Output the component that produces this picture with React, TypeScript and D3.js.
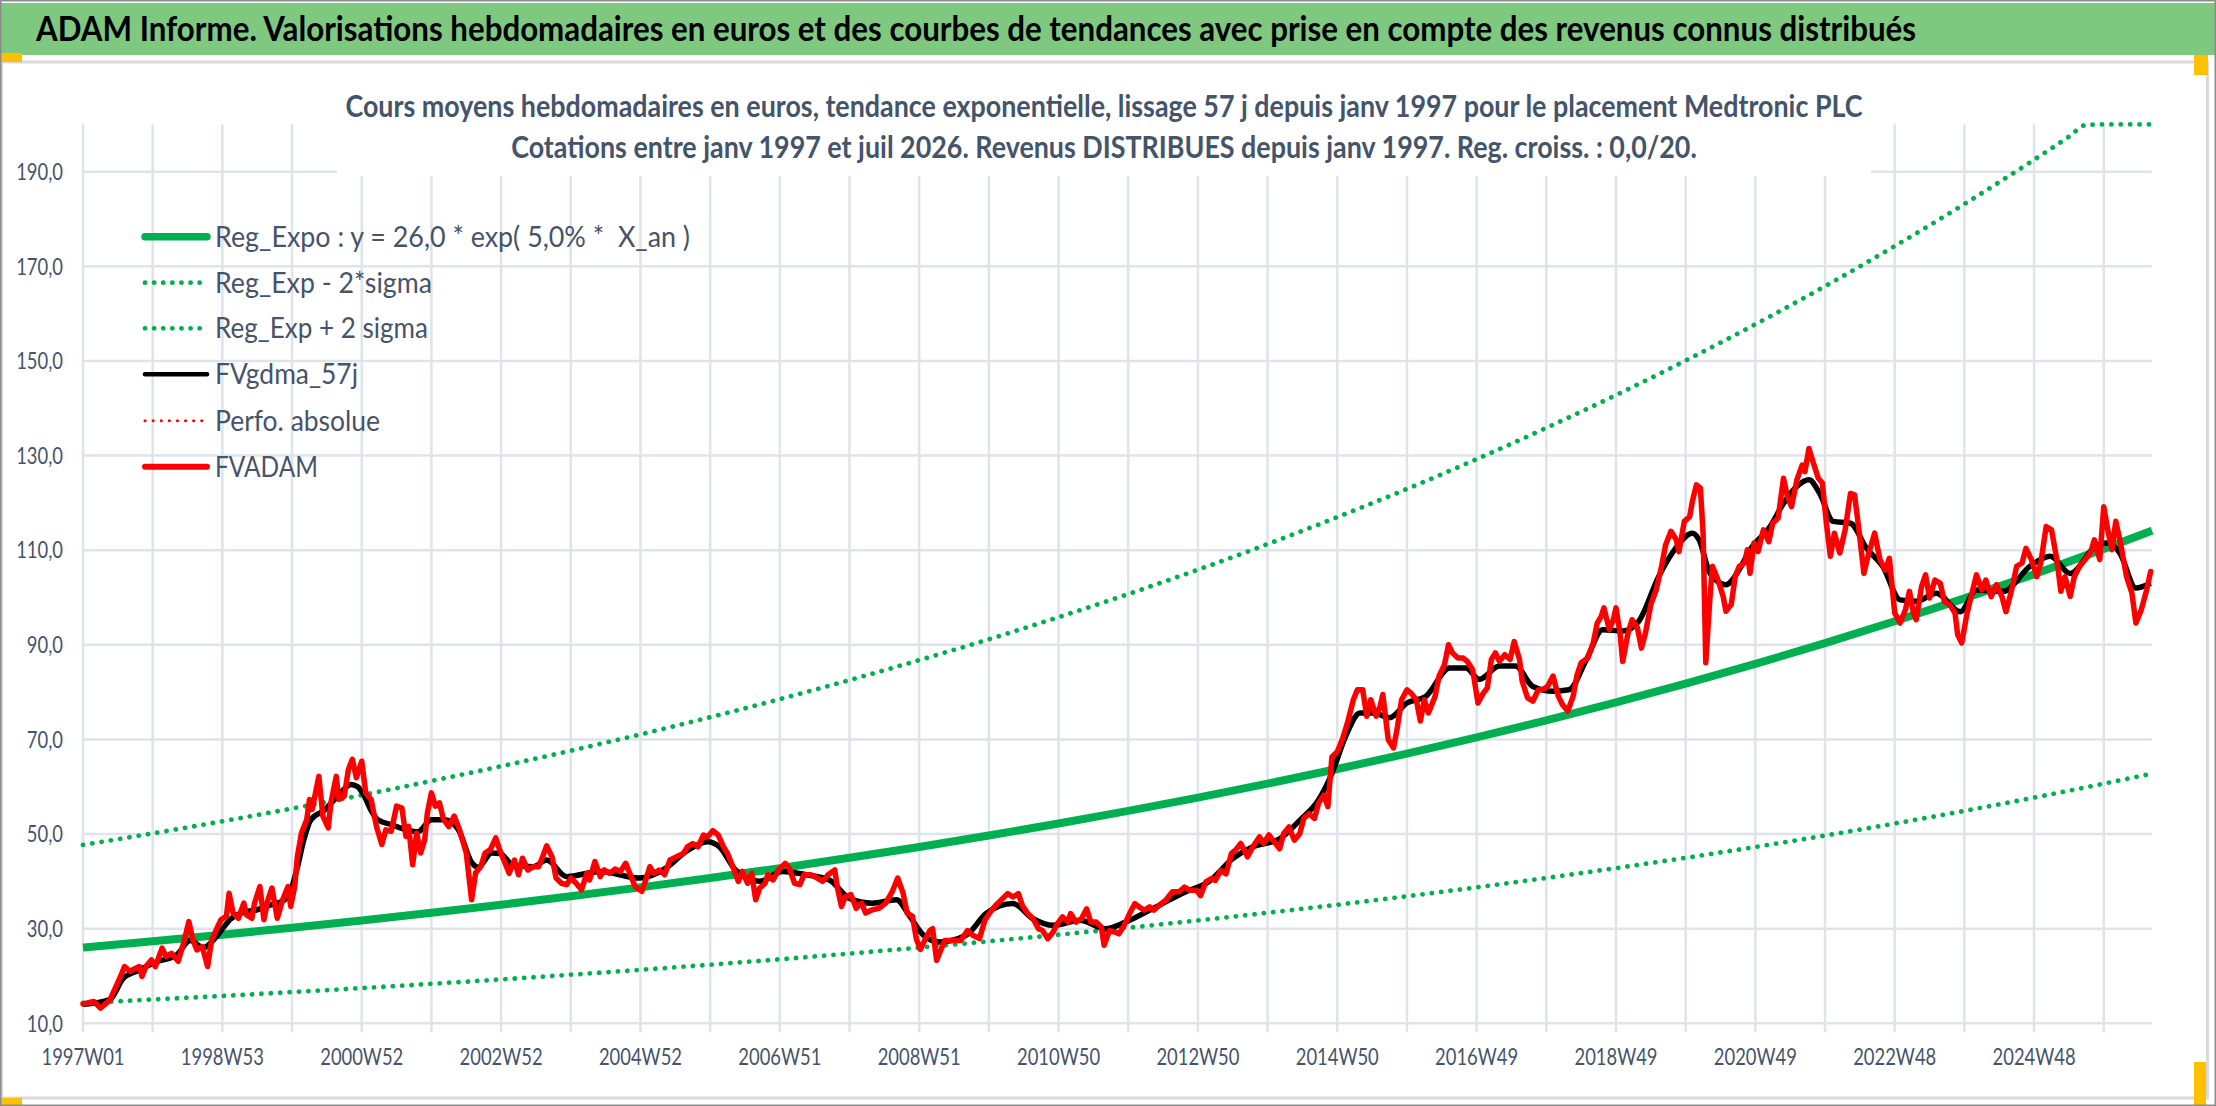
import React, { useLayoutEffect, useRef, useState } from "react";
import * as d3 from "d3";

// ---------------- DATA ----------------
const weeksTotal = 1545; // weekly categories 1997W01 .. juil 2026

const xTickLabels = [
  "1997W01", "1998W53", "2000W52", "2002W52", "2004W52", "2006W51", "2008W51", "2010W50",
  "2012W50", "2014W50", "2016W49", "2018W49", "2020W49", "2022W48", "2024W48",
];
const yTicks = [10, 30, 50, 70, 90, 110, 130, 150, 170, 190];

// FVADAM (red) — week index / value
const redWeeks = [
  0, 8, 13, 20, 24, 28, 31, 35, 39, 42, 44, 47, 51, 54, 59, 62, 66, 71, 75, 79, 82, 85, 89, 93, 96, 100,
  103, 107, 109, 112, 116, 120, 122, 126, 128, 132, 135, 138, 141, 145, 149, 153, 155, 158, 160, 163, 167,
  169, 171, 176, 179, 183, 185, 189, 191, 195, 198, 201, 204, 208, 211, 215, 219, 223, 226, 230, 234, 238,
  241, 243, 246, 249, 252, 255, 257, 260, 263, 266, 269, 273, 277, 281, 286, 290, 293, 297, 300, 304, 308,
  311, 314, 318, 322, 325, 328, 332, 336, 340, 343, 346, 350, 353, 357, 361, 364, 368, 372, 376, 378, 382,
  386, 389, 393, 397, 401, 405, 408, 412, 417, 420, 423, 426, 430, 434, 438, 443, 448, 451, 455, 459, 463,
  466, 470, 474, 478, 481, 485, 489, 492, 496, 499, 502, 505, 509, 511, 515, 519, 524, 527, 531, 535, 538,
  543, 548, 552, 556, 561, 563, 566, 569, 573, 577, 581, 584, 589, 594, 599, 604, 608, 612, 615, 619, 622,
  625, 628, 632, 634, 637, 640, 643, 647, 652, 655, 660, 664, 669, 673, 678, 681, 685, 690, 694, 698, 701,
  705, 709, 713, 716, 720, 724, 727, 731, 735, 737, 741, 745, 749, 752, 756, 760, 762, 766, 770, 773, 777,
  781, 785, 788, 792, 796, 799, 803, 808, 813, 818, 822, 826, 831, 834, 838, 842, 845, 849, 853, 857, 860,
  864, 869, 873, 878, 881, 885, 889, 893, 896, 900, 904, 908, 911, 915, 919, 922, 926, 929, 932, 936, 940,
  944, 948, 951, 955, 958, 961, 965, 968, 970, 974, 978, 981, 984, 988, 991, 995, 998, 1001, 1004, 1009,
  1012, 1016, 1019, 1022, 1026, 1030, 1033, 1037, 1041, 1045, 1048, 1051, 1054, 1057, 1061, 1065, 1068,
  1072, 1074, 1078, 1082, 1086, 1089, 1093, 1097, 1101, 1104, 1108, 1112, 1115, 1118, 1123, 1127, 1130,
  1133, 1135, 1139, 1142, 1144, 1147, 1149, 1153, 1156, 1160, 1163, 1166, 1170, 1174, 1178, 1181, 1185,
  1189, 1191, 1195, 1199, 1201, 1204, 1207, 1209, 1211, 1214, 1216, 1220, 1224, 1226, 1230, 1233, 1236,
  1240, 1242, 1244, 1247, 1250, 1254, 1258, 1261, 1265, 1269, 1272, 1275, 1279, 1283, 1285, 1288, 1291,
  1295, 1298, 1301, 1304, 1307, 1311, 1315, 1319, 1322, 1325, 1329, 1332, 1337, 1341, 1345, 1348, 1352,
  1356, 1360, 1363, 1366, 1368, 1372, 1375, 1378, 1382, 1386, 1389, 1393, 1397, 1399, 1402, 1406, 1409,
  1413, 1417, 1420, 1424, 1428, 1432, 1435, 1439, 1443, 1447, 1450, 1454, 1458, 1461, 1465, 1469, 1473,
  1476, 1479, 1483, 1486, 1490, 1494, 1498, 1501, 1505, 1508, 1511, 1514, 1517, 1521, 1525, 1529, 1532,
  1536, 1540, 1543,
];
const redValues = [
  14.1, 14.6, 13.2, 14.9, 17.4, 19.9, 22.0, 21.0, 21.6, 22.0, 19.9, 22.0, 23.4, 22.0, 25.9, 24.1, 24.8, 23.1,
  26.9, 31.5, 27.6, 25.5, 26.2, 22.0, 27.6, 30.1, 31.9, 32.6, 37.5, 33.3, 32.2, 35.4, 32.9, 32.2, 35.4, 38.9,
  31.9, 36.1, 38.6, 32.2, 36.1, 38.9, 34.7, 38.9, 45.3, 50.2, 53.1, 57.3, 55.2, 62.2, 53.8, 51.3, 56.6, 62.2,
  57.3, 58.0, 63.6, 65.8, 61.9, 65.4, 58.7, 57.3, 51.6, 47.8, 50.9, 50.6, 55.9, 55.5, 49.5, 51.6, 43.5, 50.2,
  46.0, 48.8, 54.5, 58.7, 55.9, 56.6, 53.1, 51.6, 53.8, 50.9, 46.0, 36.1, 41.8, 43.2, 46.0, 46.7, 49.2,
  46.6, 44.5, 41.7, 44.5, 41.4, 44.9, 42.4, 43.1, 43.1, 45.2, 47.5, 45.2, 40.7, 39.6, 39.3, 40.7, 39.6, 38.2,
  41.7, 40.3, 44.2, 41.0, 42.4, 41.7, 42.6, 42.1, 43.8, 41.7, 38.9, 37.9, 40.3, 43.1, 41.7, 42.4, 41.4, 44.5,
  45.2, 45.9, 47.3, 48.0, 47.3, 49.8, 49.4, 50.7, 49.8, 47.3, 45.9, 43.1, 40.0, 42.1, 39.6, 41.7, 36.1, 38.6,
  39.6, 41.4, 40.3, 42.4, 43.8, 42.8, 39.6, 39.3, 41.4, 41.4, 40.7, 40.0, 41.4, 42.4, 38.6, 34.7, 36.8, 37.2,
  34.3, 35.4, 33.3, 34.0, 34.3, 35.4, 37.9, 40.7, 37.5, 33.3, 32.6, 27.7, 25.6,
  27.5, 29.6, 30.0, 23.3, 25.4, 27.5, 27.5, 27.5, 27.5, 29.6, 28.6, 27.9, 31.8, 33.9, 34.9, 36.0, 37.4, 36.7,
  37.4, 34.9, 33.2, 32.1, 30.0, 29.6, 27.9, 29.3, 31.0, 32.5, 31.4, 33.2, 31.4, 32.1, 34.2, 31.4, 31.4, 30.3,
  26.5, 29.6, 29.3, 28.9, 30.7, 33.2, 35.3, 34.6, 33.9, 34.6, 33.9, 34.9, 36.0, 37.8, 37.8, 38.8, 38.1, 38.1,
  37.0, 39.9, 40.6, 40.2, 42.3, 41.6, 45.9, 46.6, 48.0, 45.2, 47.3, 49.4, 48.0, 49.8, 48.3, 46.9, 50.1, 51.5,
  48.7, 50.1, 53.3, 54.3, 53.3, 56.5, 58.2, 55.8, 66.3, 67.4, 70.2,
  73.9, 78.4, 80.5, 80.5, 74.9, 78.4, 74.9, 77.0, 79.5, 70.0, 68.2, 72.8, 78.4, 80.5, 79.8, 78.4, 73.9, 78.4,
  75.6, 79.1, 83.4, 85.8, 90.0, 88.3, 87.2, 87.2, 86.5, 84.8, 77.7, 79.8, 80.9, 86.9, 88.3, 86.5, 87.9, 86.9,
  90.7, 86.9, 82.3, 78.8, 78.1, 80.5, 80.5, 81.2, 83.4, 79.1, 77.4, 76.0, 79.1, 83.7, 86.2, 87.2, 90.4, 94.6,
  96.0, 97.8, 93.2, 95.3, 97.8, 92.5, 86.5, 92.5, 95.3, 93.6, 89.3, 92.5, 98.5, 101.6, 106.6, 111.1, 114.0,
  112.2, 109.7, 116.1, 117.1, 120.3, 123.8, 123.1, 113.6, 86.2, 99.5, 106.6, 103.8, 100.2, 97.1, 98.5, 104.5,
  106.6, 107.3, 110.1,
  105.1, 111.5, 109.7, 114.3, 111.8, 115.7, 116.8, 125.2, 121.3, 119.2, 124.9, 128.0, 126.6, 131.5, 128.7,
  125.2, 124.2, 115.7, 108.7, 113.6, 109.4, 114.3, 122.0, 121.7, 115.0, 105.1, 108.7, 113.6, 108.0, 105.8,
  108.3, 96.7, 94.6, 97.4, 101.3, 96.7, 95.3, 102.3, 104.8, 99.9, 103.7, 103.0, 99.2, 98.5, 96.7, 92.1, 90.4,
  96.7, 100.2, 104.8, 101.6, 103.7, 100.2, 102.7, 100.2, 97.0, 101.3, 106.6, 107.3, 110.4, 108.0, 104.4,
  107.3, 115.0, 114.3, 108.0, 101.3, 104.4, 100.2, 104.4, 106.6, 108.0, 109.4, 112.2, 108.0, 119.2, 114.3,
  110.1, 116.1, 110.8, 104.4, 100.9, 94.6, 97.4, 101.6, 105.5,
];

// FVgdma_57j (black) — smoothed
const blackWeeks = [
  0, 20, 30, 40, 55, 70, 80, 90, 100, 110, 120, 130, 140, 150, 155, 160, 165, 170, 180, 190, 200, 205, 210,
  215, 220, 230, 240, 250, 260, 270, 280, 290, 295, 305, 311, 321, 336, 346, 361, 386, 415, 435, 450, 466,
  475, 487, 505, 522, 540, 557, 572, 589, 607, 617, 627, 639, 659, 674, 694, 709, 724, 744, 763, 778, 798,
  823, 840, 858, 873, 893, 908, 922, 932, 942, 953, 963, 975, 988, 1002, 1020, 1032, 1042, 1057, 1069, 1082,
  1097, 1109, 1122, 1134, 1149, 1161, 1176, 1186, 1201, 1206, 1214, 1226, 1236, 1244, 1259, 1269, 1279,
  1288, 1296, 1306, 1319, 1331, 1343, 1356, 1368, 1383, 1401, 1413, 1433, 1453, 1468, 1483, 1502, 1510,
  1520, 1532, 1543,
];
const blackValues = [
  14, 15, 19.5, 21, 23, 24.5, 27.5, 26, 28.5, 32, 33.5, 34, 35, 36, 38, 43, 49, 53, 55, 58, 60.5, 60, 58, 55,
  53, 52, 51, 50.5, 53, 53, 51, 44, 43, 46, 45.9, 43.5, 43.1, 44.5, 41, 42.1, 40.7, 42.8, 46.3, 48.4, 47.3,
  42.4, 40, 42.1, 41.4, 40.3, 36.4, 35.4, 36.1, 32.6, 28.7, 27.2, 28.6, 33.2, 35.3, 32.1, 30.7, 31.8, 30,
  31.4, 34.2, 37.8, 39.9, 44.8, 47.3, 49, 52.9, 57.2, 62.8, 70.5, 75.6, 75.6, 74.6, 77.7, 79.1, 85.1, 85.1,
  82.7, 85.5, 85.5, 81.2, 80.2, 80.5, 86.9, 93.2, 92.9, 95, 104.5, 109.4, 113.6, 112.2, 105.2, 102.7, 105.9,
  110.1, 115, 119.9, 123.5, 124.9, 122, 116.1, 115.7, 110.4, 106.6, 99.5, 99.2, 100.9, 97, 101.6, 101.3,
  106.6, 108.7, 105.1, 110.8, 111.5, 109.4, 102, 103,
];

// Reg_Expo : y = 26,0 * exp(5,0% * X_an), one point per 52 weeks
const regWeeks = [
  0, 52, 104, 156, 208, 260, 312, 364, 416, 468, 520, 572, 624, 676, 728, 780, 832, 884, 936, 988, 1040,
  1092, 1144, 1196, 1248, 1300, 1352, 1404, 1456, 1508, 1544,
];
const regValues = [
  26.0, 27.33, 28.72, 30.19, 31.73, 33.36, 35.06, 36.85, 38.73, 40.71, 42.79, 44.98, 47.28, 49.69, 52.23,
  54.9, 57.7, 60.65, 63.75, 67.0, 70.43, 74.03, 77.81, 81.79, 85.96, 90.35, 94.97, 99.82, 104.92, 110.28,
  114.15,
];
const lowerValues = [
  14.3, 15.03, 15.8, 16.6, 17.45, 18.35, 19.28, 20.27, 21.3, 22.39, 23.53, 24.74, 26.0, 27.33, 28.73, 30.2,
  31.74, 33.36, 35.06, 36.85, 38.74, 40.72, 42.8, 44.98, 47.28, 49.69, 52.23, 54.9, 57.71, 60.65, 62.78,
];
const upperWeeks = [
  0, 52, 104, 156, 208, 260, 312, 364, 416, 468, 520, 572, 624, 676, 728, 780, 832, 884, 936, 988, 1040,
  1092, 1144, 1196, 1248, 1300, 1352, 1404, 1456, 1482, 1495, 1508, 1544,
];
const upperValues = [
  47.71, 50.15, 52.7, 55.4, 58.22, 61.22, 64.34, 67.62, 71.07, 74.7, 78.52, 82.54, 86.76, 91.18, 95.84,
  100.74, 105.88, 111.29, 116.98, 122.95, 129.24, 135.85, 142.78, 150.08, 157.74, 165.79, 174.27, 183.17,
  192.53, 197.4, 199.9, 202.36, 209.47,
];

const legendLabels = [
  "Reg_Expo : y = 26,0 * exp( 5,0% *  X_an )",
  "Reg_Exp - 2*sigma",
  "Reg_Exp + 2 sigma",
  "FVgdma_57j",
  "Perfo. absolue",
  "FVADAM",
];

const titleText =
  "ADAM Informe. Valorisations hebdomadaires en euros et des courbes de tendances avec prise en compte des revenus connus distribués";
const subtitle1 =
  "Cours moyens hebdomadaires en euros, tendance exponentielle, lissage 57 j depuis janv 1997 pour le placement Medtronic PLC";
const subtitle2 =
  "Cotations entre janv 1997 et juil 2026. Revenus DISTRIBUES depuis janv 1997. Reg. croiss. : 0,0/20.";

// ---------------- LAYOUT ----------------
const W = 2216;
const H = 1106;
const PLOT = { left: 83, right: 2152, top: 124.4, bottom: 1023.3 };
const FONT = "Lato, 'Open Sans', 'DejaVu Sans', sans-serif";
const GREEN = "#00B050";
const GRID = "#dfe3ea";
const TEXT = "#46536a";
const SX = 0.8;
const SUB_CX = 1104;
const SUB1_W = 1517;

const pairs = (ws: number[], vs: number[]) => ws.map((w, i) => [w, vs[i]] as [number, number]);

export default function App() {
  const sub1Ref = useRef<SVGTextElement>(null);
  const [subSx, setSubSx] = useState(0.8);

  useLayoutEffect(() => {
    const measure = () => {
      const el = sub1Ref.current;
      if (!el) return;
      const w = el.getComputedTextLength();
      if (w > 0) setSubSx(SUB1_W / w);
    };
    measure();
    if ((document as any).fonts?.ready) (document as any).fonts.ready.then(measure);
  }, []);

  const x = d3.scaleLinear().domain([0, weeksTotal - 1]).range([PLOT.left, PLOT.right]);
  const y = d3.scaleLinear().domain([10, 200]).range([PLOT.bottom, PLOT.top]).clamp(true);

  const lineLin = d3
    .line<[number, number]>()
    .x((d) => x(d[0]))
    .y((d) => y(d[1]))
    .curve(d3.curveLinear);
  const lineSmooth = d3
    .line<[number, number]>()
    .x((d) => x(d[0]))
    .y((d) => y(d[1]))
    .curve(d3.curveMonotoneX);

  const gridWeeks = d3.range(0, weeksTotal, 52);
  const fmt = (v: number) => d3.format(".1f")(v).replace(".", ",");

  const legendY = [236.7, 282.7, 328.3, 374.3, 420.7, 466.7];
  const legendTextW = [475, 217, 213, 143, 165, 103];
  const dotted = (color: string, w: number, gap: number) => ({
    stroke: color,
    strokeWidth: w,
    strokeDasharray: `0.1 ${gap}`,
    strokeLinecap: "round" as const,
    fill: "none",
  });
  const legendStyles = [
    { stroke: GREEN, strokeWidth: 7.5, strokeLinecap: "round" as const, fill: "none" },
    dotted(GREEN, 4.8, 9),
    dotted(GREEN, 4.8, 9),
    { stroke: "#000", strokeWidth: 4.5, strokeLinecap: "round" as const, fill: "none" },
    dotted("#ff0000", 3, 8),
    { stroke: "#ff0000", strokeWidth: 6, strokeLinecap: "round" as const, fill: "none" },
  ];

  return (
    <div style={{ position: "absolute", left: 0, top: 0 }}>
      <svg width={W} height={H} viewBox={`0 0 ${W} ${H}`} style={{ display: "block", background: "#fff" }}>
        <rect x={0} y={0} width={W} height={H} fill="#fff" />
        {/* green banner */}
        <rect x={0} y={3} width={W} height={52} fill="#7ec87f" />
        <text
          x={36}
          y={41}
          textLength={1880}
          lengthAdjust="spacingAndGlyphs"
          fontFamily={FONT}
          fontWeight={700}
          fontSize={35}
          fill="#000"
        >
          {titleText}
        </text>
        {/* chart area */}
        <rect x={1.5} y={62} width={2206} height={1036} fill="#fff" stroke="#d9d9d9" strokeWidth={3} />

        {/* gridlines */}
        {yTicks.map((t) => (
          <line key={"h" + t} x1={PLOT.left} x2={PLOT.right} y1={y(t)} y2={y(t)} stroke={GRID} strokeWidth={2.5} />
        ))}
        {gridWeeks.map((w) => (
          <line key={"v" + w} x1={x(w)} x2={x(w)} y1={PLOT.top} y2={PLOT.bottom + 9} stroke={GRID} strokeWidth={2.5} />
        ))}
        {/* title box (white) */}
        <rect x={337} y={64} width={1534} height={112} fill="#fff" />

        {/* subtitles */}
        <g transform={`translate(${SUB_CX},117) scale(${subSx},1)`}>
          <text ref={sub1Ref} textAnchor="middle" fontFamily={FONT} fontWeight={700} fontSize={30} fill="#44546A">
            {subtitle1}
          </text>
        </g>
        <g transform={`translate(${SUB_CX},158) scale(${subSx},1)`}>
          <text textAnchor="middle" fontFamily={FONT} fontWeight={700} fontSize={30} fill="#44546A">
            {subtitle2}
          </text>
        </g>

        {/* y labels */}
        {yTicks.map((t) => (
          <g key={"yl" + t} transform={`translate(63,${y(t) + 8.3}) scale(${SX},1)`}>
            <text textAnchor="end" fontFamily={FONT} fontSize={23} fill={TEXT}>
              {fmt(t)}
            </text>
          </g>
        ))}
        {/* x labels */}
        {xTickLabels.map((lab, i) => (
          <g key={lab} transform={`translate(${x(i * 104)},1065) scale(${SX},1)`}>
            <text textAnchor="middle" fontFamily={FONT} fontSize={23} fill={TEXT}>
              {lab}
            </text>
          </g>
        ))}

        {/* series */}
        <path d={lineSmooth(pairs(regWeeks, lowerValues)) || ""} {...dotted(GREEN, 4.8, 9.3)} />
        <path d={lineSmooth(pairs(upperWeeks, upperValues)) || ""} {...dotted(GREEN, 4.8, 9.3)} />
        <path d={lineSmooth(pairs(regWeeks, regValues)) || ""} fill="none" stroke={GREEN} strokeWidth={8} />
        <path
          d={lineSmooth(pairs(blackWeeks, blackValues)) || ""}
          fill="none"
          stroke="#000"
          strokeWidth={5.5}
          strokeLinejoin="round"
        />
        <path
          d={lineLin(pairs(redWeeks, redValues)) || ""}
          fill="none"
          stroke="#ff0000"
          strokeWidth={5.5}
          strokeLinejoin="round"
          strokeLinecap="round"
        />

        {/* legend */}
        {legendLabels.map((lab, i) => (
          <g key={lab}>
            <line x1={145} x2={207} y1={legendY[i]} y2={legendY[i]} {...legendStyles[i]} />
            <text
              x={215}
              y={legendY[i] + 10}
              textLength={legendTextW[i]}
              lengthAdjust="spacingAndGlyphs"
              fontFamily={FONT}
              fontSize={29}
              fill={TEXT}
              style={{ whiteSpace: "pre" }}
            >
              {lab}
            </text>
          </g>
        ))}

        {/* selection handles / frame */}
        <rect x={0} y={53} width={22} height={9} fill="#FFC000" />
        <rect x={2194} y={55} width={14} height={20} fill="#FFC000" />
        <rect x={0} y={1098} width={22} height={8} fill="#FFC000" />
        <rect x={2194} y={1062} width={12} height={44} fill="#FFC000" />
        <rect x={0.75} y={0.75} width={W - 1.5} height={H - 1.5} fill="none" stroke="#8c8c8c" strokeWidth={1.5} />
      </svg>
    </div>
  );
}
